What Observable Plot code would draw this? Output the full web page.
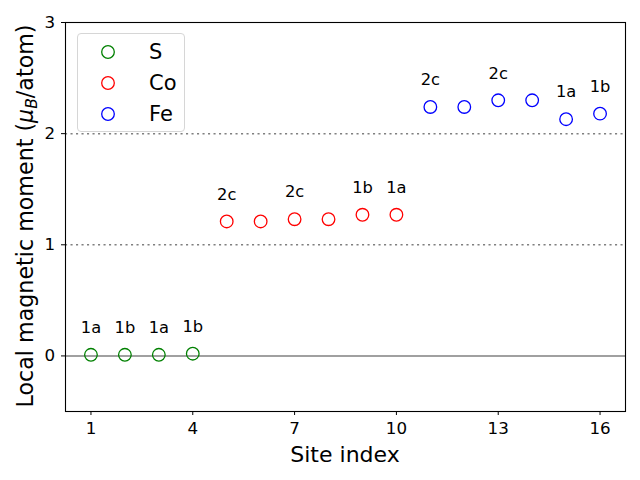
<!DOCTYPE html>
<html>
<head>
<meta charset="utf-8">
<script src="https://cdn.jsdelivr.net/npm/d3@7"></script>
<script src="https://cdn.jsdelivr.net/npm/@observablehq/plot@0.6"></script>
<style>
  html, body { margin: 0; padding: 0; background: white; }
  #wrap { position: relative; width: 640px; height: 480px; font-family: "DejaVu Sans", sans-serif; }
  #legend { position: absolute; left: 77px; top: 33px; width: 108px; height: 99px; box-sizing: border-box;
    border: 1px solid #d6d6d6; border-radius: 4px; background: rgba(255,255,255,0.8);
    padding-top: 2px; font-size: 21px; color: black; }
  .row { height: 31px; display: flex; align-items: center; }
  .row svg { margin-left: 22px; }
  .row span { margin-left: 33px; }
</style>
</head>
<body>
<div id="wrap"></div>
<script>
const sites = [1,2,3,4,5,6,7,8,9,10,11,12,13,14,15,16];
const species = ["S","S","S","S","Co","Co","Co","Co","Co","Co","Fe","Fe","Fe","Fe","Fe","Fe"];
const moments = [0.01,0.01,0.01,0.02,1.21,1.21,1.23,1.23,1.27,1.27,2.24,2.24,2.30,2.30,2.13,2.18];
const wyckoff = ["1a","1b","1a","1b","2c","","2c","","1b","1a","2c","","2c","","1a","1b"];
const legendNames = ["S","Co","Fe"];
const legendColors = ["green","red","blue"];
const xTicks = [1,4,7,10,13,16];
const yTicks = [0,1,2,3];
const dottedLevels = [1,2];
const solidLevels = [0];

const data = sites.map((s,i) => ({site:s, species:species[i], moment:moments[i], label:wyckoff[i]}));
const colorOf = Object.fromEntries(legendNames.map((n,i)=>[n,legendColors[i]]));

const chart = Plot.plot({
  width: 640, height: 480,
  marginLeft: 65, marginRight: 15, marginTop: 22, marginBottom: 69,
  style: {fontFamily: "DejaVu Sans, sans-serif", fontSize: "16.7px", color: "black", background: "white"},
  x: {domain: [0.25, 16.75]},
  y: {domain: [-0.5, 3]},
  marks: [
    Plot.ruleY(dottedLevels, {stroke: "#808080", strokeWidth: 1.5, strokeDasharray: "2.1,3.4"}),
    Plot.ruleY(solidLevels, {stroke: "#808080", strokeWidth: 1.5}),
    Plot.dot(data, {x: "site", y: "moment", r: 6.3, stroke: d => colorOf[d.species], strokeWidth: 1.3, fill: "none"}),
    Plot.text(data.filter(d => d.label), {x: "site", y: "moment", text: "label", dy: -27, fontSize: 16.3, fill: "black"}),
    Plot.frame({stroke: "black", strokeWidth: 1.1}),
    Plot.axisX({ticks: xTicks, tickSize: 4, tickPadding: 7, fontSize: 16.7, label: null}),
    Plot.axisY({ticks: yTicks, tickFormat: d3.format("d"), tickSize: 4, tickPadding: 6.5, fontSize: 16.7, label: null})
  ]
});

const wrap = document.getElementById("wrap");
wrap.appendChild(chart);

const svg = d3.select(chart);
svg.selectAll('g[aria-label="x-axis tick label"], g[aria-label="y-axis tick label"]').attr("font-size", 16.7);
svg.selectAll('g[aria-label="x-axis tick label"] text, g[aria-label="y-axis tick label"] text').attr("font-size", 16.7);

svg.append("text")
  .attr("x", 345).attr("y", 462)
  .attr("text-anchor", "middle")
  .attr("font-size", 22).attr("fill", "black")
  .text("Site index");

const yl = svg.append("text")
  .attr("transform", "translate(33,216) rotate(-90)")
  .attr("text-anchor", "middle")
  .attr("font-size", 22.2).attr("fill", "black");
yl.append("tspan").text("Local magnetic moment (");
yl.append("tspan").attr("font-style", "italic").text("μ");
yl.append("tspan").attr("font-style", "italic").attr("font-size", 15.5).attr("dy", 4).text("B");
yl.append("tspan").attr("dy", -4).text("/atom)");

const legend = document.createElement("div");
legend.id = "legend";
legendNames.forEach((n,i) => {
  const row = document.createElement("div");
  row.className = "row";
  row.innerHTML = `<svg width="16" height="16"><circle cx="8" cy="8" r="6.3" fill="none" stroke="${legendColors[i]}" stroke-width="1.3"/></svg><span>${n}</span>`;
  legend.appendChild(row);
});
wrap.appendChild(legend);
</script>
</body>
</html>
